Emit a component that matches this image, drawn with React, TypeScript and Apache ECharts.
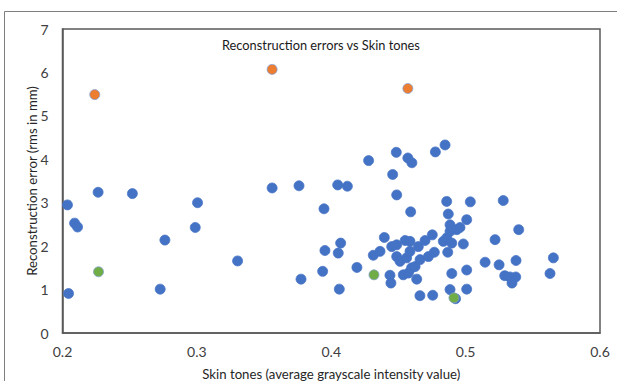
import React, { useEffect, useRef } from "react";
import * as echarts from "echarts";

// Skin tone (x) vs reconstruction error (y), regular samples
const bluePoints: [number, number][] = [
  [0.2037, 2.95], [0.2045, 0.91], [0.209, 2.53], [0.2112, 2.44], [0.2265, 3.24],
  [0.252, 3.21], [0.2727, 1.01], [0.2762, 2.14], [0.2988, 2.43], [0.3005, 3.0],
  [0.3303, 1.66], [0.356, 3.34], [0.376, 3.39], [0.3775, 1.24], [0.3936, 1.42],
  [0.3946, 2.86], [0.3953, 1.9], [0.4048, 3.41], [0.4052, 1.84], [0.406, 1.01],
  [0.407, 2.07], [0.412, 3.38], [0.4191, 1.51], [0.4278, 3.97], [0.4313, 1.79],
  [0.4363, 1.88], [0.4395, 2.2], [0.4437, 1.33], [0.4444, 1.15], [0.445, 1.99],
  [0.4457, 3.65], [0.4484, 4.16], [0.4487, 3.18], [0.4487, 2.03], [0.4487, 1.76],
  [0.4512, 1.65], [0.4536, 1.34], [0.455, 2.13], [0.4561, 1.73], [0.457, 4.03],
  [0.4574, 1.38], [0.4586, 2.11], [0.4586, 1.88], [0.4591, 2.79], [0.4598, 1.5],
  [0.46, 3.92], [0.4624, 1.53], [0.4636, 1.24], [0.4648, 1.99], [0.466, 0.86],
  [0.4661, 1.69], [0.4698, 2.13], [0.4723, 1.76], [0.4752, 2.26], [0.4755, 0.87],
  [0.4767, 1.86], [0.4775, 4.17], [0.4834, 2.11], [0.4847, 4.33], [0.4859, 3.03],
  [0.4859, 2.19], [0.4867, 1.86], [0.4871, 2.74], [0.4884, 2.49], [0.4884, 2.34],
  [0.4884, 1.0], [0.4897, 2.07], [0.4897, 1.37], [0.4934, 2.38], [0.4958, 2.43],
  [0.4925, 0.79], [0.4983, 2.05], [0.5008, 2.61], [0.5008, 1.45], [0.5008, 1.01],
  [0.5035, 3.02], [0.5145, 1.63], [0.5219, 2.15], [0.5249, 1.57], [0.528, 3.05],
  [0.5291, 1.32], [0.533, 1.29], [0.5345, 1.15], [0.5373, 1.29], [0.5375, 1.67],
  [0.5395, 2.38], [0.5628, 1.37], [0.5653, 1.73],
];

// Highlighted outliers (high error)
const orangePoints: [number, number][] = [
  [0.224, 5.49], [0.356, 6.07], [0.457, 5.63],
];

// Highlighted best cases (low error)
const greenPoints: [number, number][] = [
  [0.2268, 1.41], [0.4318, 1.34], [0.4913, 0.81],
];

const xTicks = { min: 0.2, max: 0.6, step: 0.1 };
const yTicks = { min: 0, max: 7, step: 1 };

const FONT = "Lato, 'Open Sans', sans-serif";
const W = 617;
const H = 381;
const GRID = { left: 62.5, right: 17, top: 29, bottom: 48 };

export default function App() {
  const ref = useRef<HTMLDivElement>(null);

  useEffect(() => {
    document.body.style.margin = "0";
    if (!ref.current) return;
    const chart = echarts.init(ref.current, undefined, { renderer: "svg" });

    const mk = (data: [number, number][], color: string, border: string) => ({
      type: "scatter",
      data,
      symbol: "circle",
      symbolSize: 10,
      itemStyle: { color, borderColor: border, borderWidth: 0.75, opacity: 1 },
      emphasis: { disabled: true },
    });

    chart.setOption({
      animation: false,
      backgroundColor: "#ffffff",
      textStyle: { fontFamily: FONT },
      title: {
        text: "Reconstruction errors vs Skin tones",
        left: 217,
        top: 33,
        textStyle: { fontFamily: FONT, fontSize: 12.8, fontWeight: "normal", color: "#1a1a1a" },
      },
      graphic: [
        // outer chart frame (only top and left edges fall inside the canvas)
        {
          type: "line",
          shape: { x1: 4.5, y1: 11.5, x2: 640, y2: 11.5 },
          style: { stroke: "#7f7f7f", lineWidth: 1 },
        },
        {
          type: "line",
          shape: { x1: 4.5, y1: 11.5, x2: 4.5, y2: 400 },
          style: { stroke: "#7f7f7f", lineWidth: 1 },
        },
        // plot-area frame
        {
          type: "rect",
          silent: true,
          shape: {
            x: GRID.left,
            y: GRID.top,
            width: W - GRID.left - GRID.right,
            height: H - GRID.top - GRID.bottom,
          },
          style: { fill: "none", stroke: "#595959", lineWidth: 1.5 },
        },
      ],
      grid: { ...GRID, show: false, containLabel: false, outerBoundsMode: "none" },
      xAxis: {
        type: "value",
        min: xTicks.min,
        max: xTicks.max,
        interval: xTicks.step,
        name: "Skin tones (average grayscale intensity value)",
        nameLocation: "middle",
        nameGap: 34,
        nameTextStyle: { fontFamily: FONT, fontSize: 13.2, color: "#262626" },
        axisLine: { show: true, lineStyle: { color: "#595959", width: 1.5 } },
        axisTick: { show: false },
        splitLine: { show: false },
        axisLabel: {
          fontFamily: FONT,
          fontSize: 14,
          color: "#404040",
          margin: 11,
          formatter: (v: number) => v.toFixed(1),
        },
      },
      yAxis: {
        type: "value",
        min: yTicks.min,
        max: yTicks.max,
        interval: yTicks.step,
        name: "Reconstruction error (rms in mm)",
        nameLocation: "middle",
        nameMoveOverlap: false,
        nameGap: 24,
        nameTextStyle: { fontFamily: FONT, fontSize: 13.2, color: "#262626" },
        axisLine: { show: true, lineStyle: { color: "#595959", width: 1.5 } },
        axisTick: { show: false },
        splitLine: { show: false },
        axisLabel: { fontFamily: FONT, fontSize: 14, color: "#404040", margin: 14 },
      },
      series: [
        mk(bluePoints, "#4472c4", "#4472c4"),
        mk(orangePoints, "#ed7d31", "#7f9fd6"),
        mk(greenPoints, "#70ad47", "#7fa0c8"),
      ],
    });

    return () => chart.dispose();
  }, []);

  return <div ref={ref} style={{ width: W, height: H }} />;
}
